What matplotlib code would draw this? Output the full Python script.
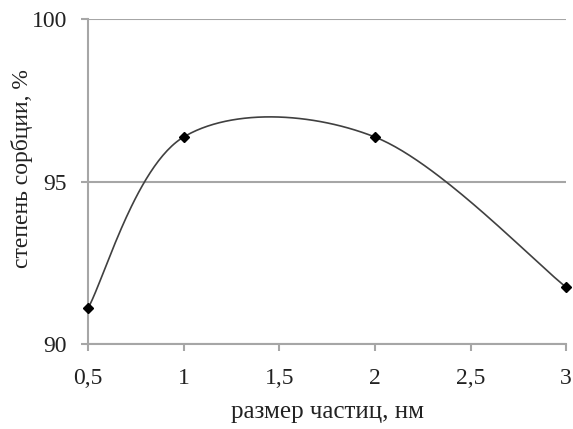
import matplotlib
matplotlib.use("Agg")
import matplotlib.pyplot as plt
import numpy as np

# data
size_nm = [0.5, 1, 2, 3]
sorption = [91.1, 96.37, 96.37, 91.75]
x_ticks = [0.5, 1, 1.5, 2, 2.5, 3]
x_tick_labels = ["0,5", "1", "1,5", "2", "2,5", "3"]
y_ticks = [90, 95, 100]


def excel_smooth(xs, ys, n=60):
    # Excel-style smoothed line: cubic Bezier segments, control points at 1/6
    xs = np.asarray(xs, float)
    ys = np.asarray(ys, float)
    px = np.concatenate([[xs[0]], xs, [xs[-1]]])
    py = np.concatenate([[ys[0]], ys, [ys[-1]]])
    out_x, out_y = [], []
    t = np.linspace(0, 1, n)
    for i in range(1, len(px) - 2):
        p0 = np.array([px[i], py[i]])
        p3 = np.array([px[i + 1], py[i + 1]])
        p1 = p0 + (np.array([px[i + 1], py[i + 1]]) - np.array([px[i - 1], py[i - 1]])) / 6
        p2 = p3 - (np.array([px[i + 2], py[i + 2]]) - np.array([px[i], py[i]])) / 6
        b = ((1 - t) ** 3)[:, None] * p0 + (3 * (1 - t) ** 2 * t)[:, None] * p1 \
            + (3 * (1 - t) * t ** 2)[:, None] * p2 + (t ** 3)[:, None] * p3
        out_x.extend(b[:, 0])
        out_y.extend(b[:, 1])
    return out_x, out_y


plt.rcParams['font.family'] = ['Liberation Serif', 'DejaVu Serif']

fig = plt.figure(figsize=(5.73, 4.29), dpi=100)
ax = fig.add_axes([0.1536, 0.198, 0.988 - 0.1536, 0.9557 - 0.198])

sx, sy = excel_smooth(size_nm, sorption)
ax.plot(sx, sy, color="#404040", lw=1.2, zorder=3)
ax.plot(size_nm, sorption, "D", color="black", ms=5, zorder=4, clip_on=False)

ax.set_xlim(0.5, 3)
ax.set_ylim(90, 100)
ax.set_xticks(x_ticks)
ax.set_xticklabels(x_tick_labels)
ax.set_yticks(y_ticks)
ax.yaxis.grid(True, color="#a6a6a6", lw=1.5)
ax.set_axisbelow(True)

for side in ["top", "right"]:
    ax.spines[side].set_visible(False)
for side in ["left", "bottom"]:
    ax.spines[side].set_color("#a6a6a6")
    ax.spines[side].set_linewidth(1.5)
ax.tick_params(colors="#a6a6a6", width=1.5, length=5, labelsize=17,
               labelcolor="#222222")
ax.tick_params(axis="x", pad=12)
ax.tick_params(axis="y", pad=10)

ax.set_xlabel("размер частиц, нм", fontsize=18, color="#222222", labelpad=9)
ax.set_ylabel("степень сорбции, %", fontsize=17, color="#222222")
ax.yaxis.set_label_coords(-0.115, 0.54)

fig.savefig("out.png", dpi=100)
